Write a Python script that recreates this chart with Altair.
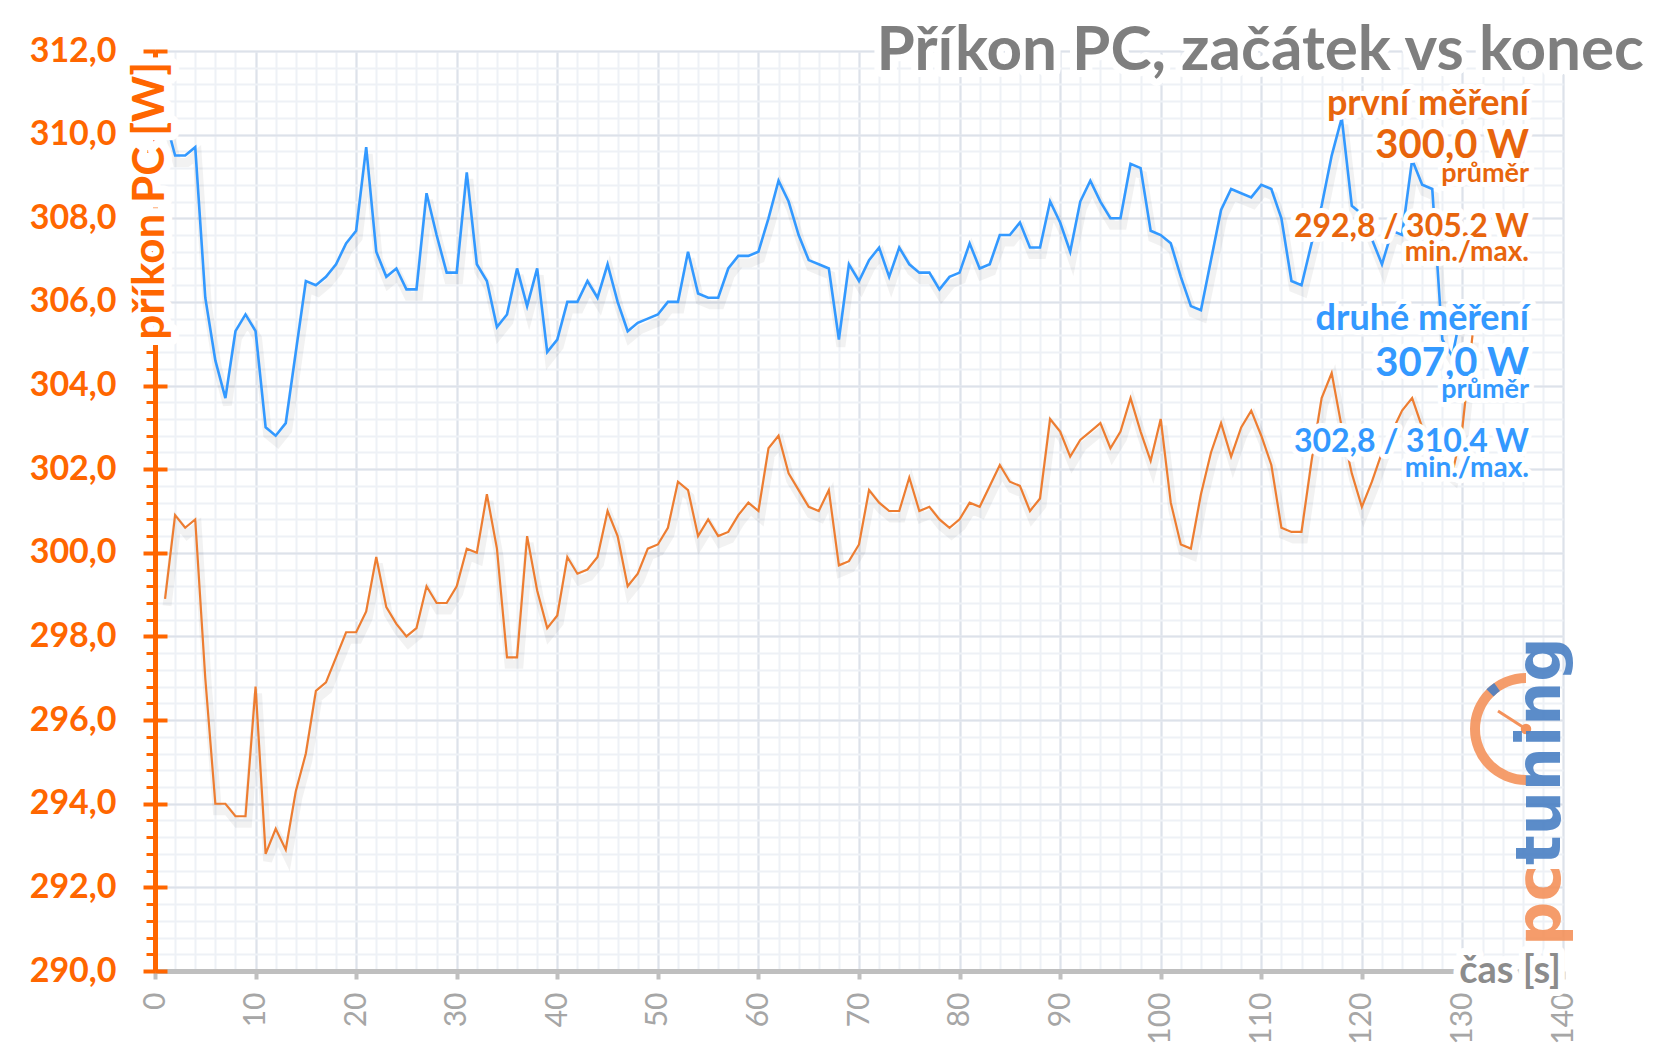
import altair as alt
import pandas as pd

# ---------------- data ----------------
seconds_first = list(range(1, 132))
first_w = [298.9, 300.9, 300.6, 300.8, 297.0, 294.0, 294.0, 293.7, 293.7, 296.8,
           292.8, 293.4, 292.9, 294.3, 295.2, 296.7, 296.9, 297.5, 298.1, 298.1,
           298.6, 299.9, 298.7, 298.3, 298.0, 298.2, 299.2, 298.8, 298.8, 299.2,
           300.1, 300.0, 301.4, 300.1, 297.5, 297.5, 300.4, 299.1, 298.2, 298.5,
           299.9, 299.5, 299.6, 299.9, 301.0, 300.4, 299.2, 299.5, 300.1, 300.2,
           300.6, 301.7, 301.5, 300.4, 300.8, 300.4, 300.5, 300.9, 301.2, 301.0,
           302.5, 302.8, 301.9, 301.5, 301.1, 301.0, 301.5, 299.7, 299.8, 300.2,
           301.5, 301.2, 301.0, 301.0, 301.8, 301.0, 301.1, 300.8, 300.6, 300.8,
           301.2, 301.1, 301.6, 302.1, 301.7, 301.6, 301.0, 301.3, 303.2, 302.9,
           302.3, 302.7, 302.9, 303.1, 302.5, 302.9, 303.7, 302.9, 302.2, 303.2,
           301.2, 300.2, 300.1, 301.4, 302.4, 303.1, 302.3, 303.0, 303.4, 302.8,
           302.1, 300.6, 300.5, 300.5, 302.2, 303.7, 304.3, 303.0, 301.9, 301.1,
           301.7, 302.4, 302.9, 303.4, 303.7, 303.0, 302.7, 302.1, 301.9, 303.0,
           305.2]

seconds_second = list(range(1, 131))
second_w = [310.4, 309.5, 309.5, 309.7, 306.1, 304.6, 303.7, 305.3, 305.7, 305.3,
            303.0, 302.8, 303.1, 304.8, 306.5, 306.4, 306.6, 306.9, 307.4, 307.7,
            309.7, 307.2, 306.6, 306.8, 306.3, 306.3, 308.6, 307.6, 306.7, 306.7,
            309.1, 306.9, 306.5, 305.4, 305.7, 306.8, 305.9, 306.8, 304.8, 305.1,
            306.0, 306.0, 306.5, 306.1, 306.9, 306.0, 305.3, 305.5, 305.6, 305.7,
            306.0, 306.0, 307.2, 306.2, 306.1, 306.1, 306.8, 307.1, 307.1, 307.2,
            308.0, 308.9, 308.4, 307.6, 307.0, 306.9, 306.8, 305.1, 306.9, 306.5,
            307.0, 307.3, 306.6, 307.3, 306.9, 306.7, 306.7, 306.3, 306.6, 306.7,
            307.4, 306.8, 306.9, 307.6, 307.6, 307.9, 307.3, 307.3, 308.4, 307.9,
            307.2, 308.4, 308.9, 308.4, 308.0, 308.0, 309.3, 309.2, 307.7, 307.6,
            307.4, 306.6, 305.9, 305.8, 307.0, 308.2, 308.7, 308.6, 308.5, 308.8,
            308.7, 308.0, 306.5, 306.4, 307.4, 308.3, 309.5, 310.4, 308.3, 308.1,
            307.5, 306.9, 307.7, 307.6, 309.4, 308.8, 308.7, 305.1, 304.7, 305.9]

x_major = list(range(0, 141, 10))
x_minor = list(range(0, 141, 2))
y_major = list(range(290, 313, 2))
y_minor = [round(290 + 0.4 * i, 1) for i in range(56)]

title_text = "Příkon PC, začátek vs konec"
y_title_text = "příkon PC [W]"
x_title_text = "čas [s]"
first_labels = ["první měření", "300,0 W", "průměr", "292,8 / 305,2 W", "min./max."]
second_labels = ["druhé měření", "307,0 W", "průměr", "302,8 / 310,4 W", "min./max."]

# ---------------- styling ----------------
W, H = 1408, 920
ORANGE_LINE = "#ed7d31"
BLUE_LINE = "#3399ff"
ORANGE_AXIS = "#ff6600"
ORANGE_TEXT = "#e8650c"
BLUE_TEXT = "#3399ff"
GRID_MAJOR = "#dde2ea"
GRID_MINOR = "#eef1f6"
FONT = "Lato"

df1 = pd.DataFrame({"t": seconds_first, "w": first_w})
df2 = pd.DataFrame({"t": seconds_second, "w": second_w})

xs = alt.Scale(domain=[0, 140], nice=False, zero=False)
ys = alt.Scale(domain=[290, 312], nice=False, zero=False)

# layer 0: minor grid + minor y ticks (blue shadow as mark)
minor = alt.Chart(df2).mark_line(color="#000000", opacity=0.05, strokeWidth=9,
                                 xOffset=2, yOffset=7).encode(
    x=alt.X("t:Q", scale=xs, axis=alt.Axis(
        orient="bottom", values=x_minor, grid=True, gridColor=GRID_MINOR, gridWidth=2,
        labels=False, ticks=False, domain=False, title=None)),
    y=alt.Y("w:Q", scale=ys, axis=alt.Axis(
        orient="left", values=y_minor, grid=True, gridColor=GRID_MINOR, gridWidth=2,
        labels=False, ticks=True, tickColor=ORANGE_AXIS, tickSize=9, tickWidth=3,
        domain=False, title=None)),
)

# layer 1: major grid, labels, domains (orange shadow as mark)
major = alt.Chart(df1).mark_line(color="#000000", opacity=0.05, strokeWidth=9,
                                 xOffset=2, yOffset=7).encode(
    x=alt.X("t:Q", scale=xs, axis=alt.Axis(
        orient="bottom", values=x_major, grid=True, gridColor=GRID_MAJOR, gridWidth=2,
        labelAngle=270, labelAlign="right", labelBaseline="middle",
        labelFont=FONT, labelFontSize=30, labelColor="#a6a6a6", labelPadding=13,
        labelFlush=False, labelOverlap=False,
        ticks=True, tickColor="#bfbfbf", tickSize=8, tickWidth=4,
        domain=True, domainColor="#bfbfbf", domainWidth=5, title=None)),
    y=alt.Y("w:Q", scale=ys, axis=alt.Axis(
        orient="left", values=y_major, grid=True, gridColor=GRID_MAJOR, gridWidth=2,
        labelExpr="replace(format(datum.value, '.1f'), '.', ',')",
        labelFont=FONT, labelFontSize=34, labelFontWeight="bold", labelColor=ORANGE_AXIS,
        labelPadding=27, labelOverlap=False, labelFlush=False,
        ticks=True, tickColor=ORANGE_AXIS, tickSize=12, tickWidth=4,
        domain=True, domainColor=ORANGE_AXIS, domainWidth=5, title=None)),
)

# layer 2: inner half of major y ticks + orange line
orange_line = alt.Chart(df1).mark_line(color=ORANGE_LINE, strokeWidth=2.2).encode(
    x=alt.X("t:Q", scale=xs, axis=None),
    y=alt.Y("w:Q", scale=ys, axis=alt.Axis(
        orient="left", values=y_major, offset=-12, grid=False, labels=False,
        ticks=True, tickColor=ORANGE_AXIS, tickSize=12, tickWidth=4,
        domain=False, title=None)),
)

blue_line = alt.Chart(df2).mark_line(color=BLUE_LINE, strokeWidth=2.6).encode(
    x=alt.X("t:Q", scale=xs, axis=None),
    y=alt.Y("w:Q", scale=ys, axis=None),
)


def text_layers(text, x, y, size, color, align="right", baseline="alphabetic",
                angle=None, weight="bold", halo=10, font=FONT, opacity=1.0):
    d = pd.DataFrame({"label": [text]})
    kw = dict(align=align, baseline=baseline, fontSize=size, font=font, fontWeight=weight)
    if angle is not None:
        kw["angle"] = angle
    out = []
    if halo:
        out.append(alt.Chart(d).mark_text(color="white", stroke="white", strokeWidth=halo,
                                          strokeJoin="round", **kw).encode(
            text="label:N", x=alt.value(x), y=alt.value(y)))
    out.append(alt.Chart(d).mark_text(color=color, opacity=opacity, **kw).encode(
        text="label:N", x=alt.value(x), y=alt.value(y)))
    return out


texts = []
# chart title
texts += text_layers(title_text, 1489, 19, 62, "#7f7f7f", halo=14)
# y axis title
texts += text_layers(y_title_text, 9, 11, 44, ORANGE_AXIS, align="right", angle=270, halo=16)
# x axis title
texts += text_layers(x_title_text, 1406, 921, 38, "#8c8c8c", baseline="middle", halo=14)

# annotations
ann_x = 1374
ann_sizes = [36, 40, 27, 32, 28]
ann_y_first = [64, 107, 131, 186, 210]
ann_y_second = [279, 325, 347, 401, 426]
for lab, yy, sz in zip(first_labels, ann_y_first, ann_sizes):
    texts += text_layers(lab, ann_x, yy, sz, ORANGE_TEXT, halo=10)
for lab, yy, sz in zip(second_labels, ann_y_second, ann_sizes):
    texts += text_layers(lab, ann_x, yy, sz, BLUE_TEXT, halo=10)

# watermark logo
one = pd.DataFrame({"a": [0]})
logo = [
    alt.Chart(one).mark_arc(color="#f4925b", opacity=0.9, theta=3.1416, theta2=6.2832,
                            radius=56, radius2=46).encode(x=alt.value(1371), y=alt.value(678)),
    alt.Chart(one).mark_arc(color="#4a80c4", opacity=0.9, theta=5.5, theta2=5.68,
                            radius=56, radius2=46).encode(x=alt.value(1371), y=alt.value(678)),
    alt.Chart(one).mark_rule(color="#f4925b", strokeWidth=3).encode(
        x=alt.value(1371), y=alt.value(678), x2=alt.value(1343), y2=alt.value(660)),
    alt.Chart(one).mark_circle(color="#f4925b", opacity=1, size=110).encode(
        x=alt.value(1371), y=alt.value(678)),
]
logo += text_layers("pc", 1405, 895, 62, "#f4925b", align="left", angle=270,
                    halo=0, font="DejaVu Sans", opacity=0.9)
logo += text_layers("tuning", 1405, 814, 62, "#4a80c4", align="left", angle=270,
                    halo=0, font="DejaVu Sans", opacity=0.9)

chart = alt.layer(minor, major, orange_line, blue_line, *logo, *texts).resolve_axis(
    x="independent", y="independent"
).properties(
    width=W, height=H,
    autosize=alt.AutoSizeParams(type="none"),
    padding={"left": 155, "top": 51, "right": 102, "bottom": 87},
    background="white",
).configure_view(stroke=None)

chart.save("out.html", embed_options={"renderer": "svg", "actions": False})
